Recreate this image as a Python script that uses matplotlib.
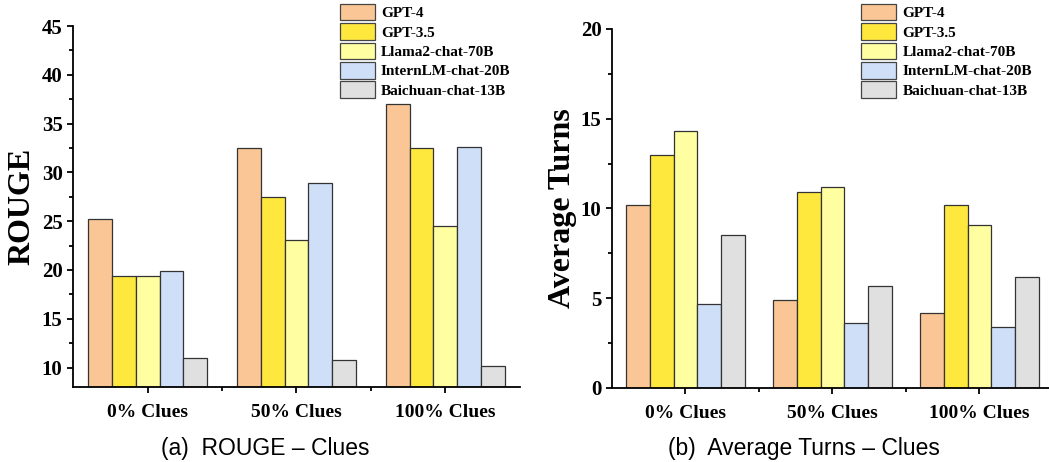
import numpy as np
import matplotlib
matplotlib.use("Agg")
import matplotlib.pyplot as plt
from matplotlib.ticker import MultipleLocator
from matplotlib.patches import Patch

categories = ['0% Clues', '50% Clues', '100% Clues']
models = ['GPT-4', 'GPT-3.5', 'Llama2-chat-70B', 'InternLM-chat-20B', 'Baichuan-chat-13B']
colors = ['#FAC696', '#FEE83E', '#FFFEA0', '#CFDFF8', '#E0E0E0']

rouge_gpt4 = [25.2, 32.5, 37.0]
rouge_gpt35 = [19.4, 27.5, 32.5]
rouge_llama = [19.4, 23.1, 24.5]
rouge_intern = [19.9, 28.9, 32.6]
rouge_baichuan = [11.0, 10.8, 10.2]

turns_gpt4 = [10.2, 4.9, 4.2]
turns_gpt35 = [13.0, 10.9, 10.2]
turns_llama = [14.3, 11.2, 9.1]
turns_intern = [4.7, 3.6, 3.4]
turns_baichuan = [8.5, 5.7, 6.2]

rouge = [rouge_gpt4, rouge_gpt35, rouge_llama, rouge_intern, rouge_baichuan]
turns = [turns_gpt4, turns_gpt35, turns_llama, turns_intern, turns_baichuan]

serif = ['Liberation Serif', 'DejaVu Serif']
sans = ['Liberation Sans', 'DejaVu Sans']

fig = plt.figure(figsize=(10.49, 4.62), dpi=100)
ax1 = fig.add_axes([0.0696, 0.1623, 0.4261, 0.7814])
ax2 = fig.add_axes([0.5834, 0.1602, 0.4204, 0.7771])

x = np.arange(1, 4)
w = 0.161


def style_yticks(ax):
    for lab in ax.get_yticklabels():
        lab.set_fontfamily(serif)
        lab.set_fontweight('bold')
        lab.set_fontsize(15)


def draw(ax, data, ylim, major, ylabel, pad):
    for i, vals in enumerate(data):
        ax.bar(x + (i - 2) * w, np.array(vals) - ylim[0], w, bottom=ylim[0],
               color=colors[i], edgecolor='#333333', linewidth=0.9, zorder=2)
    ax.set_xlim(0.5, 3.5)
    ax.set_ylim(*ylim)
    ax.spines['top'].set_visible(False)
    ax.spines['right'].set_visible(False)
    ax.spines['left'].set_linewidth(1.3)
    ax.spines['bottom'].set_linewidth(1.3)
    ax.set_xticks(x)
    ax.set_xticks([1.5, 2.5], minor=True)
    ax.set_xticklabels(categories, fontfamily=serif, fontweight='bold', fontsize=14)
    ax.yaxis.set_major_locator(MultipleLocator(major))
    ax.yaxis.set_minor_locator(MultipleLocator(major / 2))
    style_yticks(ax)
    ax.tick_params(axis='both', which='major', length=4, width=1.3, direction='out')
    ax.tick_params(axis='both', which='minor', length=3, width=1.3, direction='out')
    ax.tick_params(axis='x', pad=8)
    ax.set_ylabel(ylabel, fontfamily=serif, fontweight='bold', fontsize=23, labelpad=pad)


draw(ax1, rouge, (8, 45), 5, 'ROUGE', 4)
ax1.set_yticks(np.arange(10, 46, 5))
style_yticks(ax1)
draw(ax2, turns, (0, 20), 5, 'Average Turns', 3)

handles = [Patch(facecolor=c, edgecolor='#444444', linewidth=0.9) for c in colors]
for xpos in [0.318, 0.815]:
    fig.legend(handles, models, loc='upper left', bbox_to_anchor=(xpos, 1.005),
               frameon=False, prop={'family': serif, 'weight': 'bold', 'size': 11},
               handlelength=2.3, handleheight=1.3, handletextpad=0.4,
               labelspacing=0.18, borderaxespad=0)

fig.text(0.253, 0.016, '(a)  ROUGE – Clues', fontfamily=sans, fontsize=16.5, ha='center')
fig.text(0.766, 0.016, '(b)  Average Turns – Clues', fontfamily=sans, fontsize=16.5, ha='center')

fig.savefig('out.png', dpi=100)
